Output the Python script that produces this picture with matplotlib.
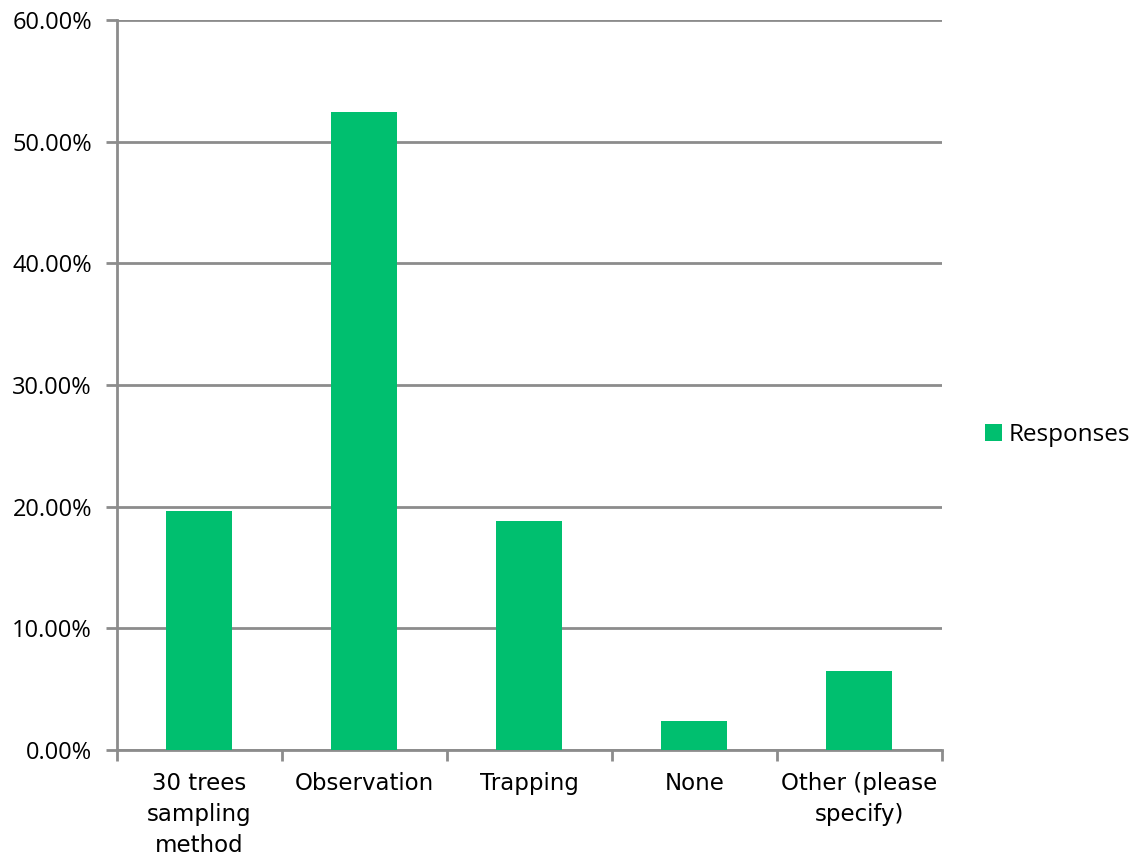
import matplotlib
matplotlib.use("Agg")
import matplotlib.pyplot as plt
from matplotlib.ticker import FuncFormatter, FixedLocator, NullFormatter
import numpy as np

categories = ["30 trees\nsampling\nmethod", "Observation", "Trapping", "None", "Other (please\nspecify)"]
values = [19.6, 52.4, 18.8, 2.4, 6.5]
series_name = "Responses"
yticks = [0, 10, 20, 30, 40, 50, 60]

color = "#00BF6F"
grid_c = "#8C8C8C"

fig = plt.figure(figsize=(11.3, 8.59), dpi=100)
ax = fig.add_axes([0.1035, 0.127, 0.730, 0.8497])

x = np.arange(len(categories))
ax.bar(x, values, width=0.4, color=color, label=series_name, zorder=3)

ax.set_xlim(-0.5, len(categories) - 0.5)
ax.set_ylim(0, 60)
ax.set_yticks(yticks)
ax.yaxis.set_major_formatter(FuncFormatter(lambda v, p: f"{v:.2f}%"))
ax.grid(axis="y", color=grid_c, linewidth=2, zorder=0)

ax.xaxis.set_major_locator(FixedLocator(np.arange(len(categories) + 1) - 0.5))
ax.xaxis.set_major_formatter(NullFormatter())
ax.set_xticks(x, minor=True)
ax.set_xticklabels(categories, minor=True, fontsize=16.5, family="DejaVu Sans", linespacing=1.45)
ax.tick_params(axis="x", which="minor", length=0, pad=16)
ax.tick_params(axis="x", which="major", length=8, width=2, color=grid_c)
ax.tick_params(axis="y", length=8, width=2, color=grid_c, labelsize=17, pad=10)
for lab in ax.get_yticklabels():
    lab.set_family("Open Sans")

for s in ["top", "right"]:
    ax.spines[s].set_visible(False)
for s in ["left", "bottom"]:
    ax.spines[s].set_color(grid_c)
    ax.spines[s].set_linewidth(2)

leg = fig.legend(loc="center left", bbox_to_anchor=(0.8715, 0.494), frameon=False,
                 handlelength=0.7, handleheight=0.7, handletextpad=0.3,
                 borderaxespad=0, borderpad=0,
                 prop={"family": "Open Sans", "size": 17.5})

fig.savefig("out.png", dpi=100)
